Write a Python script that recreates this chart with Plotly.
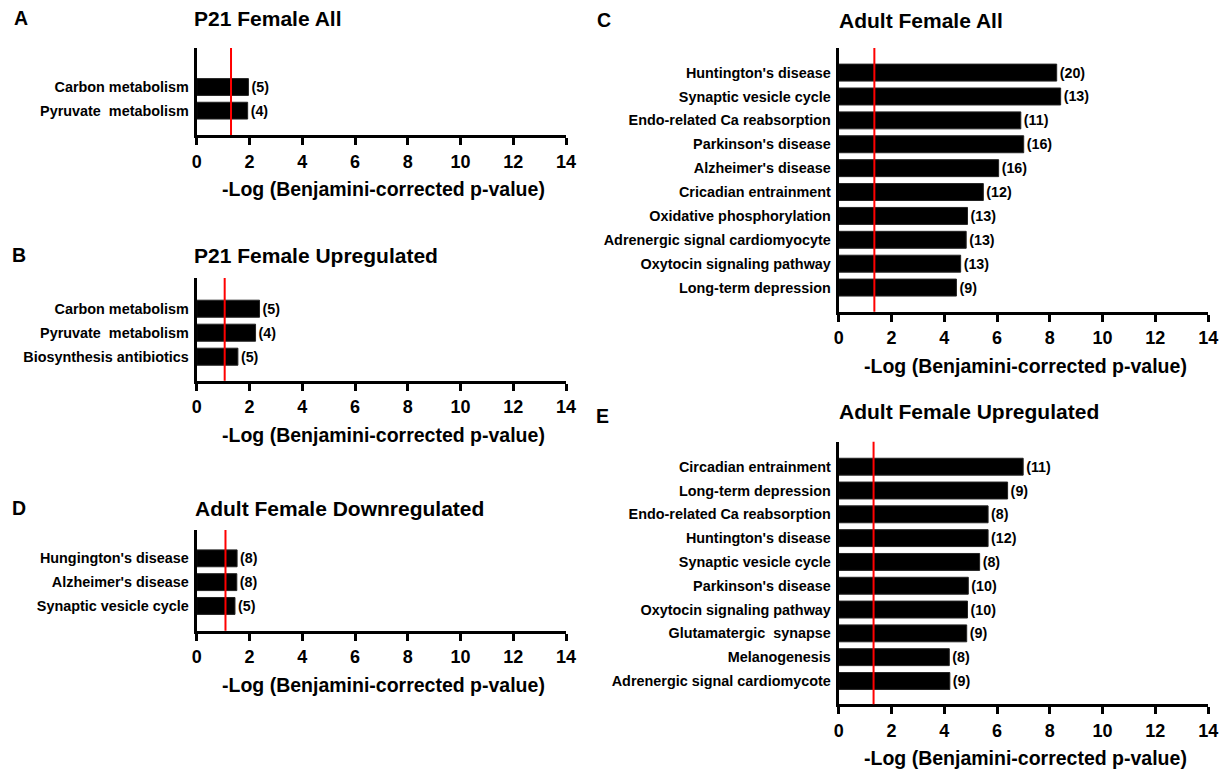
import plotly.graph_objects as go

# ---------------- data ----------------
a_cats = ["Carbon metabolism", "Pyruvate  metabolism"]
a_vals = [1.96, 1.93]
a_counts = [5, 4]
a_thresh = 1.30

b_cats = ["Carbon metabolism", "Pyruvate  metabolism", "Biosynthesis antibiotics"]
b_vals = [2.38, 2.23, 1.56]
b_counts = [5, 4, 5]
b_thresh = 1.06

d_cats = ["Hungington's disease", "Alzheimer's disease", "Synaptic vesicle cycle"]
d_vals = [1.53, 1.52, 1.45]
d_counts = [8, 8, 5]
d_thresh = 1.09

c_cats = ["Huntington's disease", "Synaptic vesicle cycle", "Endo-related Ca reabsorption",
          "Parkinson's disease", "Alzheimer's disease", "Cricadian entrainment",
          "Oxidative phosphorylation", "Adrenergic signal cardiomyocyte",
          "Oxytocin signaling pathway", "Long-term depression"]
c_vals = [8.26, 8.41, 6.90, 7.01, 6.06, 5.48, 4.88, 4.83, 4.62, 4.46]
c_counts = [20, 13, 11, 16, 16, 12, 13, 13, 13, 9]
c_thresh = 1.35

e_cats = ["Circadian entrainment", "Long-term depression", "Endo-related Ca reabsorption",
          "Huntington's disease", "Synaptic vesicle cycle", "Parkinson's disease",
          "Oxytocin signaling pathway", "Glutamatergic  synapse", "Melanogenesis",
          "Adrenergic signal cardiomycote"]
e_vals = [6.99, 6.40, 5.66, 5.66, 5.34, 4.91, 4.88, 4.85, 4.19, 4.21]
e_counts = [11, 9, 8, 12, 8, 10, 10, 9, 8, 9]
e_thresh = 1.32

x_ticks = [0, 2, 4, 6, 8, 10, 12, 14]
axis_title = "-Log (Benjamini-corrected p-value)"

# ---------------- layout spec (pixels in the 1230x769 window) ----------------
OFF = 8                      # default page body margin
W, H = 1230 - OFF, 769 - OFF  # figure size
FONT = "Arial, 'Liberation Sans', sans-serif"
LX0, LX1 = 194.0, 568.0
RX0, RX1 = 844.0, 1218.0

panels = [
    dict(letter="A", title="P21 Female All", cats=a_cats, vals=a_vals, counts=a_counts, thr=a_thresh,
         x0=LX0, x1=LX1, yt=48, yb=135, tg=1.65, bg=1.03, lx=16, ly=18.5, tx=189.4, ty=19),
    dict(letter="B", title="P21 Female Upregulated", cats=b_cats, vals=b_vals, counts=b_counts, thr=b_thresh,
         x0=LX0, x1=LX1, yt=278, yb=380.7, tg=1.28, bg=1.0, lx=14.5, ly=255, tx=189.4, ty=255),
    dict(letter="D", title="Adult Female Downregulated", cats=d_cats, vals=d_vals, counts=d_counts, thr=d_thresh,
         x0=LX0, x1=LX1, yt=530, yb=630.7, tg=1.19, bg=1.04, lx=14.5, ly=508, tx=190, ty=508),
    dict(letter="C", title="Adult Female All", cats=c_cats, vals=c_vals, counts=c_counts, thr=c_thresh,
         x0=RX0, x1=RX1, yt=48, yb=311.7, tg=1.03, bg=1.01, lx=606, ly=19.7, tx=842, ty=21),
    dict(letter="E", title="Adult Female Upregulated", cats=e_cats, vals=e_vals, counts=e_counts, thr=e_thresh,
         x0=RX0, x1=RX1, yt=441.7, yb=704.3, tg=1.05, bg=0.98, lx=605, ly=415.7, tx=842, ty=411.7),
]


def px(v):
    return (v - OFF) / W


def py(v):
    return 1 - (v - OFF) / H


fig = go.Figure()
shapes = []
annotations = []
layout_axes = {}

for i, p in enumerate(panels, start=1):
    sx = "" if i == 1 else str(i)
    xname, yname = "x" + sx, "y" + sx
    n = len(p["cats"])
    fig.add_trace(go.Bar(
        x=p["vals"], y=p["cats"], orientation="h",
        xaxis=xname, yaxis=yname,
        marker=dict(color="black", line=dict(color="#222", width=1)),
        width=0.71,
        text=["(%d)" % c for c in p["counts"]],
        textposition="outside", constraintext="none", cliponaxis=False,
        textfont=dict(family=FONT, size=14.3, color="black", weight="bold"),
        showlegend=False, hoverinfo="skip",
    ))
    layout_axes["xaxis" + sx] = dict(
        domain=[px(p["x0"]), px(p["x1"])], anchor=yname, range=[0, 14],
        tickvals=x_ticks, ticks="outside", ticklen=7, tickwidth=2.5, tickcolor="black",
        ticklabelstandoff=1,
        showline=True, linewidth=3, linecolor="black", showgrid=False, zeroline=False,
        tickfont=dict(family=FONT, size=18, color="black", weight="bold"),
        fixedrange=True,
    )
    layout_axes["yaxis" + sx] = dict(
        domain=[py(p["yb"]), py(p["yt"])], anchor=xname,
        type="category", categoryorder="array", categoryarray=p["cats"],
        range=[n - 1 + p["bg"], -p["tg"]],
        showline=True, linewidth=3, linecolor="black", showgrid=False, zeroline=False,
        ticks="", ticklabelstandoff=2,
        tickfont=dict(family=FONT, size=14.4, color="black", weight="bold"),
        fixedrange=True,
    )
    shapes.append(dict(type="line", xref=xname, yref=yname + " domain",
                       x0=p["thr"], x1=p["thr"], y0=0, y1=1,
                       line=dict(color="#ff0000", width=2)))
    annotations.append(dict(text=p["letter"], xref="paper", yref="paper",
                            x=px(p["lx"]), y=py(p["ly"]), xanchor="center", yanchor="middle",
                            showarrow=False, font=dict(family=FONT, size=19.5, color="black", weight="bold")))
    annotations.append(dict(text=p["title"], xref="paper", yref="paper",
                            x=px(p["tx"]), y=py(p["ty"]), xanchor="left", yanchor="middle",
                            showarrow=False, font=dict(family=FONT, size=21, color="black", weight="bold")))
    annotations.append(dict(text=axis_title, xref="paper", yref="paper",
                            x=px((p["x0"] + p["x1"]) / 2 + 2), y=py(p["yb"] + 54),
                            xanchor="center", yanchor="middle",
                            showarrow=False, font=dict(family=FONT, size=19.5, color="black", weight="bold")))

fig.update_layout(
    width=W, height=H, margin=dict(l=0, r=0, t=0, b=0),
    paper_bgcolor="white", plot_bgcolor="white",
    shapes=shapes, annotations=annotations, bargap=0.3,
    **layout_axes,
)

fig.write_html("out.html")
